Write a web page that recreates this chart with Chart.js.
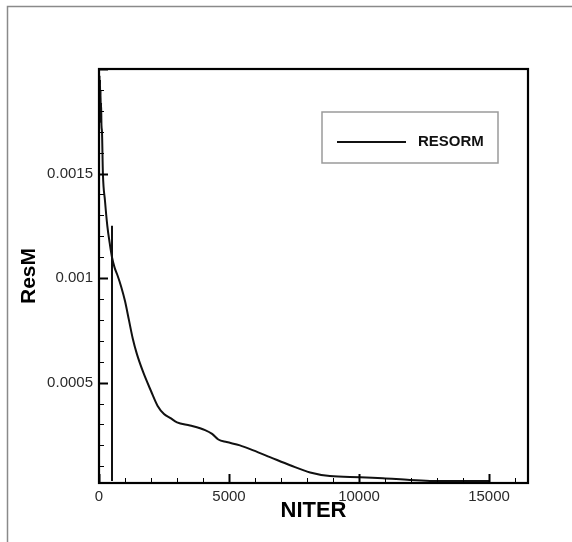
<!DOCTYPE html>
<html>
<head>
<meta charset="utf-8">
<script src="https://cdn.jsdelivr.net/npm/chart.js@4/dist/chart.umd.min.js"></script>
<style>
  html, body { margin: 0; padding: 0; background: #fff; }
  #wrap { position: relative; width: 572px; height: 542px; }
  canvas { display: block; }
</style>
</head>
<body>
<div id="wrap"><canvas id="c" width="572" height="542"></canvas></div>
<script>
// Mass residual history
const seriesName = 'RESORM';
const niter = [0, 10, 20, 30, 40, 50, 60, 70, 80, 95, 115, 150, 230, 320, 420, 500, 600, 720, 850, 1000, 1150, 1300, 1450, 1700, 2000, 2250, 2500, 2750, 3000, 3500, 4080, 4350, 4590, 4910, 5420, 5935, 6575, 7350, 8120, 8880, 10040, 10920, 11960, 12730, 14000, 15040];
const resm = [0.00199, 0.00176, 0.00197, 0.00180, 0.00195, 0.00178, 0.00190, 0.00174, 0.00184, 0.00173, 0.00170, 0.00150, 0.00137, 0.00125, 0.00116, 0.00110, 0.00105, 0.00101, 0.00096, 0.00089, 0.00080, 0.00071, 0.00064, 0.00055, 0.00046, 0.00039, 0.00035, 0.00033, 0.00031, 0.000295, 0.000273, 0.000255, 0.000228, 0.000216, 0.000200, 0.000176, 0.000144, 0.000105, 0.000070, 0.000053, 0.000048, 0.000043, 0.000034, 0.000030, 0.000029, 0.000029];

// Restart marker drawn as a vertical drop
const restartIter = [500, 500];
const restartRes = [0.00125, 0.00003];

// Axes
const xRange = [0, 16500];
const yRange = [0.00002, 0.002];
const xTickValues = [0, 5000, 10000, 15000];
const xTickLabels = ['0', '5000', '10000', '15000'];
const yTickValues = [0.0005, 0.001, 0.0015];
const yTickLabels = ['0.0005', '0.001', '0.0015'];
const xMinorStep = 1000;
const yMinorStep = 0.0001;
const xTitle = 'NITER';
const yTitle = 'ResM';

const FONT = "'Liberation Sans', Arial, Helvetica, sans-serif";

const toPoints = (xs, ys) => xs.map((x, i) => ({ x: x, y: ys[i] }));

// Frame, plot box, inward ticks and legend
const decorations = {
  id: 'decorations',
  afterDraw(chart) {
    const ctx = chart.ctx;
    const a = chart.chartArea;
    const xs = chart.scales.x, ys = chart.scales.y;
    ctx.save();

    // page frame
    ctx.strokeStyle = '#8a8a8a';
    ctx.lineWidth = 1.5;
    ctx.beginPath();
    ctx.moveTo(7.5, 542);
    ctx.lineTo(7.5, 6.5);
    ctx.lineTo(572, 6.5);
    ctx.stroke();

    // inward tick marks
    ctx.strokeStyle = '#000';
    const xMajor = new Set(xTickValues);
    for (let v = xRange[0]; v <= xRange[1] + 1e-9; v += xMinorStep) {
      const px = Math.round(xs.getPixelForValue(v)) + 0.5;
      const major = xMajor.has(v);
      ctx.lineWidth = major ? 2 : 1;
      ctx.beginPath();
      ctx.moveTo(px, a.bottom);
      ctx.lineTo(px, a.bottom - (major ? 9 : 5));
      ctx.stroke();
    }
    for (let k = 1; k * yMinorStep <= yRange[1] + 1e-12; k++) {
      const v = k * yMinorStep;
      if (v < yRange[0]) continue;
      const py = Math.round(ys.getPixelForValue(v)) + 0.5;
      const major = k % 5 === 0;
      ctx.lineWidth = major ? 2 : 1;
      ctx.beginPath();
      ctx.moveTo(a.left, py);
      ctx.lineTo(a.left + (major ? 9 : 5), py);
      ctx.stroke();
    }

    // plot box
    ctx.lineWidth = 2.2;
    ctx.strokeStyle = '#000';
    ctx.strokeRect(a.left, a.top, a.right - a.left, a.bottom - a.top);

    // legend
    const lx = 322, ly = 112, lw = 176, lh = 51;
    ctx.fillStyle = '#fff';
    ctx.fillRect(lx, ly, lw, lh);
    ctx.strokeStyle = '#9a9a9a';
    ctx.lineWidth = 1.5;
    ctx.strokeRect(lx, ly, lw, lh);
    const ds = chart.data.datasets[0];
    ctx.strokeStyle = ds.borderColor;
    ctx.lineWidth = ds.borderWidth;
    ctx.beginPath();
    ctx.moveTo(337, 142);
    ctx.lineTo(406, 142);
    ctx.stroke();
    ctx.fillStyle = '#111';
    ctx.font = 'bold 15px ' + FONT;
    ctx.textBaseline = 'middle';
    ctx.textAlign = 'left';
    ctx.fillText(ds.label, 418, 142);

    ctx.restore();
  }
};

new Chart(document.getElementById('c'), {
  type: 'line',
  data: {
    datasets: [
      {
        label: seriesName,
        data: toPoints(niter, resm),
        borderColor: '#111',
        borderWidth: 2,
        pointRadius: 0,
        cubicInterpolationMode: 'monotone',
        fill: false
      },
      {
        label: 'restart',
        data: toPoints(restartIter, restartRes),
        borderColor: '#111',
        borderWidth: 2,
        pointRadius: 0,
        tension: 0,
        fill: false
      }
    ]
  },
  options: {
    responsive: false,
    animation: false,
    devicePixelRatio: 1,
    layout: { padding: { top: 69, right: 44, left: 0, bottom: 0 } },
    plugins: {
      legend: { display: false },
      tooltip: { enabled: false }
    },
    scales: {
      x: {
        type: 'linear',
        min: xRange[0],
        max: xRange[1],
        afterFit(s) { s.height = 59; },
        afterBuildTicks(s) { s.ticks = xTickValues.map(v => ({ value: v })); },
        grid: { display: false, drawTicks: false },
        border: { display: false },
        ticks: {
          autoSkip: false,
          maxRotation: 0,
          padding: 5,
          color: '#2a2a2a',
          font: { family: FONT, size: 15 },
          callback: (v) => xTickLabels[xTickValues.indexOf(v)]
        },
        title: {
          display: true,
          text: xTitle,
          color: '#000',
          font: { family: FONT, size: 22, weight: 'bold' },
          padding: { top: 0, bottom: 18 }
        }
      },
      y: {
        type: 'linear',
        min: yRange[0],
        max: yRange[1],
        afterFit(s) { s.width = 99; },
        afterBuildTicks(s) { s.ticks = yTickValues.map(v => ({ value: v })); },
        grid: { display: false, drawTicks: false },
        border: { display: false },
        ticks: {
          autoSkip: false,
          padding: 6,
          color: '#2a2a2a',
          font: { family: FONT, size: 15 },
          callback: (v) => yTickLabels[yTickValues.indexOf(v)]
        },
        title: {
          display: true,
          text: yTitle,
          color: '#000',
          font: { family: FONT, size: 21, weight: 'bold' },
          padding: { top: 17, bottom: 0 }
        }
      }
    }
  },
  plugins: [decorations]
});
</script>
</body>
</html>
